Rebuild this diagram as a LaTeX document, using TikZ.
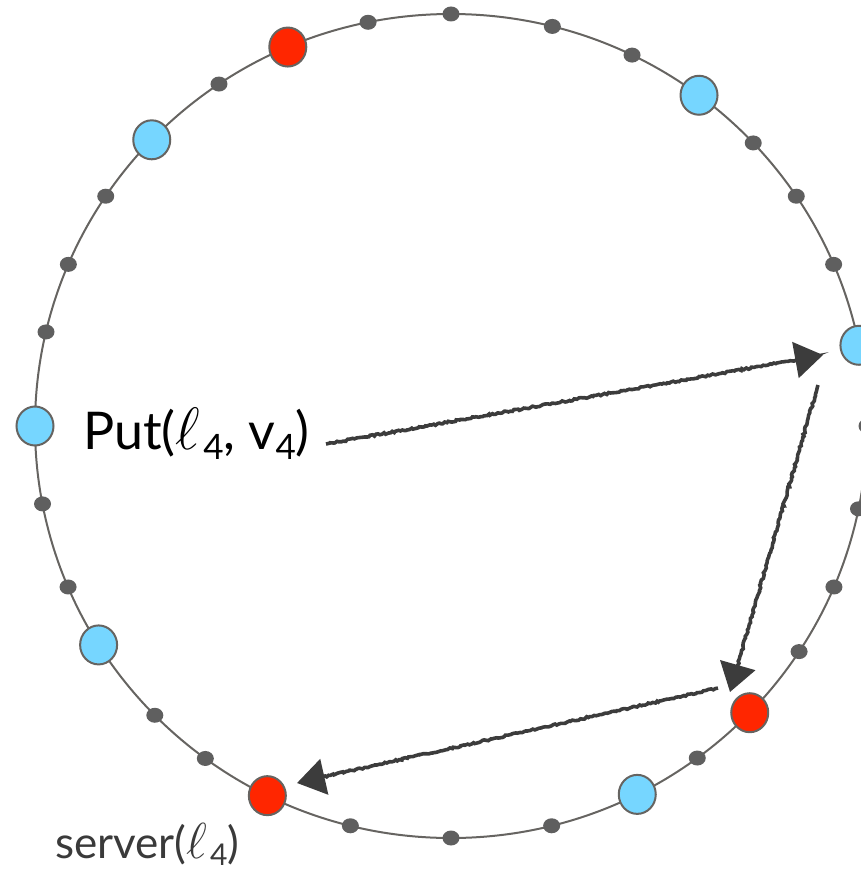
\documentclass[tikz,border=0pt]{standalone}
\usepackage{fix-cm}
\usepackage{fontspec}
\setmainfont{Lato}
\usetikzlibrary{arrows.meta,decorations.pathmorphing,shapes.geometric}
\definecolor{ringgray}{HTML}{666461}
\definecolor{dotgray}{HTML}{5F5F5F}
\definecolor{nodeblue}{HTML}{76D6FF}
\definecolor{nodered}{HTML}{FF2600}
\definecolor{inkgray}{HTML}{3C3C3C}
\definecolor{labelgray}{HTML}{3A3A3A}
\newcommand{\lowsub}[2]{\raisebox{-#1}{\fontsize{#2}{#2}\selectfont 4}}
\newcommand{\bigell}{\scalebox{1.15}{$\ell$}\kern0.06em}
\begin{document}
\begin{tikzpicture}[x=1pt,y=-1pt,
  ring/.style={draw=ringgray,line width=2pt},
  smalldot/.style={ellipse,fill=dotgray,inner sep=0pt,minimum width=17pt,minimum height=15pt},
  bignode/.style={ellipse,draw=ringgray,line width=2pt,inner sep=0pt,minimum width=37pt,minimum height=39pt},
  bluenode/.style={bignode,fill=nodeblue},
  rednode/.style={bignode,fill=nodered},
  sketch/.style={draw=inkgray,line width=3.6pt,
    decoration={random steps,segment length=2pt,amplitude=0.9pt,pre length=1pt,post length=10pt},
    decorate,-{Triangle[length=28pt,width=36pt]}},
  lbl/.style={anchor=base west,inner sep=0pt}]
\useasboundingbox (0,0) rectangle (861,872);
% ring
\draw[ring] (451,426) ellipse [x radius=416pt, y radius=412pt];
% small dots
\foreach \a [count=\i] in {90,75.9,64.2,43.4,33.9,23.1,0,-11.6,-23,-33.2,-53.7,-76,-90,-104,-126.2,-135.4,-157,-169.1,166.8,156.9,146.1,123.9,101.5}
  \node[smalldot] (d\i) at ({451+416*cos(\a)},{426-412*sin(\a)}) {};
% blue nodes
\foreach \a [count=\i] in {53.4,11.3,-63.4,-147.9,180,136}
  \node[bluenode] (b\i) at ({451+416*cos(\a)},{426-412*sin(\a)}) {};
% red nodes
\foreach \a [count=\i] in {113.1,-44.1,-116.2}
  \node[rednode] (r\i) at ({451+416*cos(\a)},{426-412*sin(\a)}) {};
% labels
\node[lbl,font=\fontsize{52}{58}\selectfont] (putlbl) at (83,449)
  {Put(\bigell\lowsub{0.2em}{35}, v\lowsub{0.2em}{35})};
\node[lbl,font=\fontsize{44}{48}\selectfont,text=labelgray] (srvlbl) at (55,858)
  {server(\bigell\lowsub{0.18em}{30})};
% arrow end points
\coordinate (a1s) at (326,444);
\coordinate (a1e) at (823,355);
\coordinate (a2s) at (818,385);
\coordinate (a2e) at (730,692);
\coordinate (a3s) at (718,688);
\coordinate (a3e) at (297,783);
\draw[sketch] (a1s) -- (a1e);
\draw[sketch] (a2s) -- (a2e);
\draw[sketch] (a3s) -- (a3e);
\end{tikzpicture}
\end{document}
